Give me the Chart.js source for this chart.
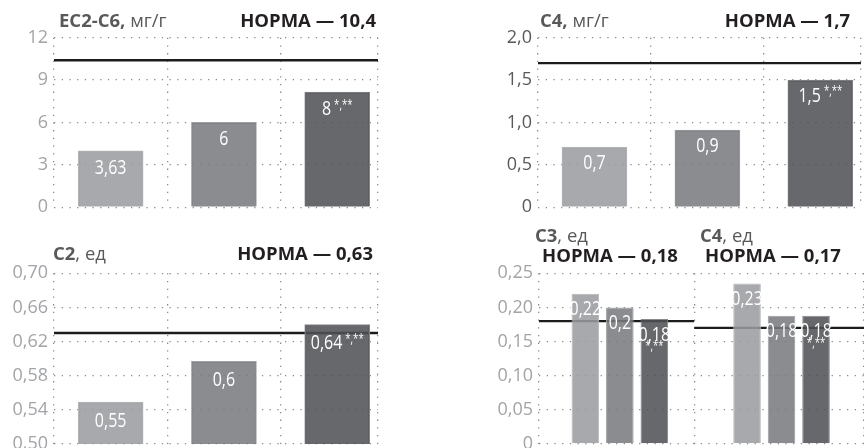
<!DOCTYPE html>
<html lang="ru">
<head>
<meta charset="utf-8">
<title>Ацилкарнитины</title>
<script src="https://cdn.jsdelivr.net/npm/chart.js@4.4.0/dist/chart.umd.min.js"></script>
<style>
  html, body { margin: 0; padding: 0; background: #fff; }
  body { width: 864px; height: 448px; overflow: hidden; position: relative; }
  canvas { position: absolute; }
</style>
</head>
<body>
<canvas id="chartEC" width="432" height="224" style="left:0;top:0;width:432px;height:224px"></canvas>
<canvas id="chartC4" width="432" height="224" style="left:432px;top:0;width:432px;height:224px"></canvas>
<canvas id="chartC2" width="432" height="240" style="left:0;top:224px;width:432px;height:240px"></canvas>
<canvas id="chartC34" width="432" height="240" style="left:432px;top:224px;width:432px;height:240px"></canvas>
<script>
// ── данные ──
// три группы (на рисунке без подписей), слева направо: светлый, средний, тёмный столбик
var groups = [1, 2, 3];

var ecValues = [3.99, 6.0, 8.15];
var ecLabels = ['3,63', '6', '8'];
var ecNotes = ['', '', '*,**'];
var ecNorm = 10.4;
var ecTicks = [0, 3, 6, 9, 12];
var ecTickLabels = ['0', '3', '6', '9', '12'];

var c4Values = [0.71, 0.91, 1.5];
var c4Labels = ['0,7', '0,9', '1,5'];
var c4Notes = ['', '', '*,**'];
var c4Norm = 1.7;
var c4Ticks = [0, 0.5, 1, 1.5, 2];
var c4TickLabels = ['0', '0,5', '1,0', '1,5', '2,0'];

var c2Values = [0.549, 0.597, 0.64];
var c2Labels = ['0,55', '0,6', '0,64'];
var c2Notes = ['', '', '*,**'];
var c2Norm = 0.63;
var c2Ticks = [0.5, 0.54, 0.58, 0.62, 0.66, 0.7];
var c2TickLabels = ['0,50', '0,54', '0,58', '0,62', '0,66', '0,70'];

// нижняя правая панель: C3 и C4 (ед), по три группы
var pairCats = [1, 2];
var pairNorms = [0.18, 0.17];
var pairG1 = [0.22, 0.235];
var pairG2 = [0.2, 0.188];
var pairG3 = [0.183, 0.188];
var pairG1Labels = ['0,22', '0,23'];
var pairG2Labels = ['0,2', '0,18'];
var pairG3Labels = ['0,18', '0,18'];
var pairG3Notes = ['*,**', '*,**'];
var pairTicks = [0, 0.05, 0.1, 0.15, 0.2, 0.25];
var pairTickLabels = ['0', '0,05', '0,10', '0,15', '0,20', '0,25'];

// ── стиль ──
var barFill = ['rgba(154,156,160,0.87)', 'rgba(121,123,126,0.87)', 'rgba(80,81,85,0.87)'];
var barEdge = ['#b9babd', '#a0a1a4', '#88898c'];
var DOT = '#8c8c8c';
var TXT_GREY = '#58595b', TXT_DARK = '#231f20', TICK_LIGHT = '#a2a4a7';
var SQUEEZE = 0.8;
var VALUE_FONT = '20px "Open Sans"', NOTE_FONT = '12px "Open Sans"';

function squeezed(ctx, s, x, y) {
    ctx.save();
    ctx.translate(x, y);
    ctx.scale(SQUEEZE, 1);
    ctx.fillText(s, 0, 0);
    ctx.restore();
}

function drawValue(ctx, text, note, x, y, noteBelow) {
    ctx.save();
    ctx.fillStyle = '#fff';
    ctx.textAlign = 'left';
    ctx.textBaseline = 'middle';
    ctx.font = VALUE_FONT;
    var w = ctx.measureText(text).width * SQUEEZE;
    ctx.font = NOTE_FONT;
    var nw = note ? ctx.measureText(note).width * SQUEEZE : 0;
    var gap = note && !noteBelow ? 3 : 0;
    var total = noteBelow ? w : w + gap + nw;
    var x0 = x - total / 2;
    ctx.font = VALUE_FONT;
    squeezed(ctx, text, x0, y);
    if (note) {
        ctx.font = NOTE_FONT;
        if (noteBelow) {
            ctx.textBaseline = 'top';
            squeezed(ctx, note, x - nw / 2, y + 6);
        } else {
            squeezed(ctx, note, x0 + w + gap, y - 4);
        }
    }
    ctx.restore();
}

function labelsPlugin(offset, noteBelow) {
    return {
        id: 'barLabels',
        afterDatasetsDraw: function(chart) {
            chart.data.datasets.forEach(function(ds, di) {
                if (!ds.valueText) return;
                chart.getDatasetMeta(di).data.forEach(function(bar, i) {
                    drawValue(chart.ctx, ds.valueText[i], ds.noteText ? ds.noteText[i] : '', bar.x, bar.y + offset, noteBelow);
                });
            });
        }
    };
}

function titlePlugin(items) {
    return {
        id: 'panelTitle',
        afterDraw: function(chart) {
            var ctx = chart.ctx;
            items.forEach(function(item) {
                ctx.save();
                ctx.textAlign = 'left';
                ctx.textBaseline = 'alphabetic';
                var widths = item.parts.map(function(p) {
                    ctx.font = (p.bold ? 'bold ' : '') + item.size + 'px "Open Sans"';
                    return ctx.measureText(p.text).width;
                });
                var total = widths.reduce(function(a, b) { return a + b; }, 0);
                var x = item.align === 'right' ? item.x - total : item.x;
                item.parts.forEach(function(p, k) {
                    ctx.font = (p.bold ? 'bold ' : '') + item.size + 'px "Open Sans"';
                    ctx.fillStyle = p.color;
                    ctx.fillText(p.text, x, item.y);
                    x += widths[k];
                });
                ctx.restore();
            });
        }
    };
}

function normLine(x0, x1, v) {
    return {
        type: 'line', data: [{ x: x0, y: v }, { x: x1, y: v }],
        borderColor: '#1c1c1c', borderWidth: 2.4, pointRadius: 0, order: 2, xAxisID: 'x'
    };
}

function makeChart(id, o) {
    new Chart(document.getElementById(id), {
        type: 'bar',
        data: { datasets: o.datasets },
        options: {
            responsive: false, animation: false, devicePixelRatio: 1,
            layout: { padding: o.pad },
            plugins: { legend: { display: false }, tooltip: { enabled: false } },
            scales: {
                x: {
                    type: 'linear', display: false, offset: false, grid: { offset: false },
                    min: o.xMin, max: o.xMax,
                    afterBuildTicks: function(s) { s.ticks = o.xCats.map(function(v) { return { value: v }; }); }
                },
                x2: {
                    type: 'linear', position: 'bottom', offset: false, z: 1,
                    min: o.xMin, max: o.xMax,
                    grid: { offset: false, color: DOT, lineWidth: 1.3, drawTicks: false },
                    border: { display: false, dash: [1.3, 6.4] },
                    ticks: { display: false },
                    afterBuildTicks: function(s) { s.ticks = o.xGrid.map(function(v) { return { value: v }; }); },
                    afterFit: function(s) { s.height = 0; }
                },
                y: {
                    min: o.ticks[0], max: o.ticks[o.ticks.length - 1], z: 1,
                    grid: { color: DOT, lineWidth: 1.3, drawTicks: false },
                    border: { display: false, dash: [1.3, 6.4] },
                    ticks: {
                        color: o.tickColor, padding: 6,
                        font: { family: 'Open Sans', size: 18, weight: '400' },
                        callback: function(v, i) { return o.tickLabels[i]; }
                    },
                    afterBuildTicks: function(s) { s.ticks = o.ticks.map(function(v) { return { value: v }; }); },
                    afterFit: function(s) { s.width = o.left; }
                }
            }
        },
        plugins: [labelsPlugin(o.labelOffset, o.noteBelow), titlePlugin(o.titles)]
    });
}

function singleBars(values, labels, notes) {
    return {
        type: 'bar', data: values.map(function(v, i) { return { x: groups[i], y: v }; }),
        backgroundColor: barFill, borderColor: barEdge, borderWidth: 1, borderSkipped: 'start',
        barThickness: 65, order: 1, valueText: labels, noteText: notes
    };
}

var X_END = 3.36;
var TS = 18.5;

// ── EC2-C6, мг/г ──
makeChart('chartEC', {
    datasets: [singleBars(ecValues, ecLabels, ecNotes), normLine(0.5, X_END, ecNorm)],
    pad: { top: 37.7, bottom: 14.7, left: 0, right: 54 },
    left: 54, xMin: 0.5, xMax: X_END, xCats: groups, xGrid: [0.5, 1.5, 2.5, X_END],
    ticks: ecTicks, tickLabels: ecTickLabels, tickColor: TICK_LIGHT, labelOffset: 17,
    titles: [
        { x: 59, y: 27, size: TS, parts: [{ text: 'EC2-C6, ', bold: true, color: TXT_GREY }, { text: 'мг/г', color: TXT_GREY }] },
        { x: 376, y: 27, size: TS, align: 'right', parts: [{ text: 'НОРМА — 10,4', bold: true, color: TXT_DARK }] }
    ]
});

// ── C4, мг/г ──
makeChart('chartC4', {
    datasets: [singleBars(c4Values, c4Labels, c4Notes), normLine(0.5, X_END, c4Norm)],
    pad: { top: 37.7, bottom: 14.7, left: 0, right: 3 },
    left: 106, xMin: 0.5, xMax: X_END, xCats: groups, xGrid: [0.5, 1.5, 2.5, X_END],
    ticks: c4Ticks, tickLabels: c4TickLabels, tickColor: TXT_GREY, labelOffset: 16,
    titles: [
        { x: 108, y: 27, size: TS, parts: [{ text: 'C4, ', bold: true, color: TXT_GREY }, { text: 'мг/г', color: TXT_GREY }] },
        { x: 418, y: 27, size: TS, align: 'right', parts: [{ text: 'НОРМА — 1,7', bold: true, color: TXT_DARK }] }
    ]
});

// ── C2, ед ──
makeChart('chartC2', {
    datasets: [singleBars(c2Values, c2Labels, c2Notes), normLine(0.5, X_END, c2Norm)],
    pad: { top: 49.3, bottom: 20, left: 0, right: 54 },
    left: 54, xMin: 0.5, xMax: X_END, xCats: groups, xGrid: [0.5, 1.5, 2.5, X_END],
    ticks: c2Ticks, tickLabels: c2TickLabels, tickColor: TICK_LIGHT, labelOffset: 19,
    titles: [
        { x: 53, y: 36, size: TS, parts: [{ text: 'C2', bold: true, color: TXT_GREY }, { text: ', ед', color: TXT_GREY }] },
        { x: 373, y: 36, size: TS, align: 'right', parts: [{ text: 'НОРМА — 0,63', bold: true, color: TXT_DARK }] }
    ]
});

// ── C3 и C4, ед ──
var DIVIDE = 1.46, PAIR_END = 2.51;
makeChart('chartC34', {
    datasets: [
        { type: 'bar', data: pairG1.map(function(v, i) { return { x: pairCats[i], y: v }; }), backgroundColor: barFill[0], borderColor: barEdge[0], borderWidth: 1, borderSkipped: 'start', categoryPercentage: 0.64, barPercentage: 0.8, order: 1, valueText: pairG1Labels },
        { type: 'bar', data: pairG2.map(function(v, i) { return { x: pairCats[i], y: v }; }), backgroundColor: barFill[1], borderColor: barEdge[1], borderWidth: 1, borderSkipped: 'start', categoryPercentage: 0.64, barPercentage: 0.8, order: 1, valueText: pairG2Labels },
        { type: 'bar', data: pairG3.map(function(v, i) { return { x: pairCats[i], y: v }; }), backgroundColor: barFill[2], borderColor: barEdge[2], borderWidth: 1, borderSkipped: 'start', categoryPercentage: 0.64, barPercentage: 0.8, order: 1, valueText: pairG3Labels, noteText: pairG3Notes },
        normLine(0.5, DIVIDE, pairNorms[0]),
        normLine(DIVIDE, PAIR_END, pairNorms[1])
    ],
    pad: { top: 49.3, bottom: 20, left: 0, right: 0 },
    left: 107, xMin: 0.5, xMax: PAIR_END, xCats: pairCats, xGrid: [0.5, DIVIDE, PAIR_END],
    ticks: pairTicks, tickLabels: pairTickLabels, tickColor: TICK_LIGHT, labelOffset: 16, noteBelow: true,
    titles: [
        { x: 103, y: 18, size: TS, parts: [{ text: 'C3', bold: true, color: TXT_GREY }, { text: ', ед', color: TXT_GREY }] },
        { x: 110, y: 38, size: TS, parts: [{ text: 'НОРМА — 0,18', bold: true, color: TXT_DARK }] },
        { x: 268, y: 18, size: TS, parts: [{ text: 'C4', bold: true, color: TXT_GREY }, { text: ', ед', color: TXT_GREY }] },
        { x: 273, y: 38, size: TS, parts: [{ text: 'НОРМА — 0,17', bold: true, color: TXT_DARK }] }
    ]
});
</script>
</body>
</html>
